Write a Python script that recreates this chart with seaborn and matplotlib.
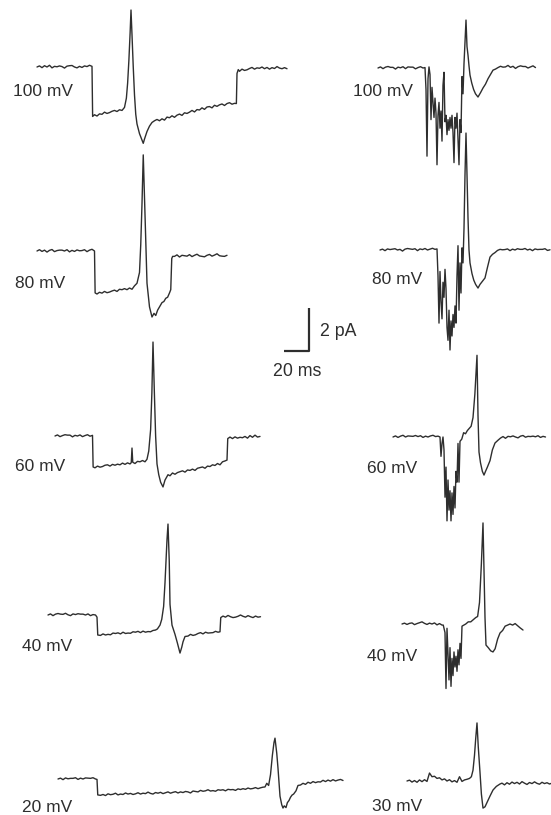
import numpy as np
import pandas as pd
import matplotlib
matplotlib.use('Agg')
import matplotlib.pyplot as plt
import seaborn as sns

# =============================================================================
# Single-channel current traces at different step voltages (two patches)
# time in ms from trace start, current in pA relative to the holding baseline
# =============================================================================

# --- left column, 100 mV ---
L100_T = [0, 2, 4, 6, 8, 10, 12, 14, 16, 18, 20, 22, 24, 26, 28, 30, 32, 34, 36, 38, 40, 42, 44,
          44.5, 46, 48, 50, 52, 54, 56, 58, 60, 62, 64, 66, 68, 70,
          71.5, 72.5, 73.5, 74.5, 75.2, 76, 77, 78, 79, 80, 82, 84, 85, 86, 88, 90, 92, 94,
          96, 98, 100, 102, 104, 106, 108, 110, 112, 114, 116, 118, 120, 122, 124, 126, 128, 130,
          132, 134, 136, 138, 140, 142, 144, 146, 148, 150, 152, 154, 156, 158, 159.5,
          160, 161, 162, 164, 166, 168, 170, 172, 174, 176, 178, 180, 182, 184, 186, 188, 190,
          192, 194, 196, 198, 200]
L100_I = [0, 0.05, -0.03, 0.06, 0, 0.08, -0.04, 0.03, 0.01, 0.05, 0.02, -0.05, 0.04, 0.06, 0.07, 0, -0.04, 0.03, -0.02, 0.05, 0.02, 0.08, 0.03,
          -2.3, -2.22, -2.28, -2.18, -2.2, -2.1, -2.16, -2.12, -2.06, -2.02, -2.07, -1.99, -2.02, -1.88,
          -1.45, -0.75, 0.3, 1.6, 2.65, 1.5, 0.0, -1.3, -2.2, -2.65, -3.1, -3.4, -3.55, -3.35, -3.0, -2.75, -2.58, -2.5,
          -2.44, -2.5, -2.41, -2.47, -2.33, -2.36, -2.27, -2.34, -2.24, -2.19, -2.25, -2.13, -2.16, -2.1, -2.02, -2.09, -1.98, -2.0,
          -1.9, -1.97, -1.86, -1.84, -1.9, -1.78, -1.83, -1.76, -1.72, -1.79, -1.7, -1.66, -1.73, -1.69, -1.7,
          -0.3, -0.12, -0.2, -0.1, -0.16, -0.13, -0.07, -0.02, -0.1, -0.04, -0.06, 0.0, -0.08, -0.02, -0.1, -0.03, -0.07,
          0.02, -0.05, -0.08, -0.03, -0.08]

# --- left column, 80 mV ---
L80_T = [0, 2, 4, 6, 8, 10, 12, 14, 16, 18, 20, 22, 24, 26, 28, 30, 32, 34, 36, 38, 40, 42, 44, 46,
         46.5, 48, 50, 52, 54, 56, 58, 60, 62, 64, 66, 68, 70, 72,
         74, 76, 78, 80,
         82, 83, 84, 85, 86.5, 88, 90, 92, 93.6, 95, 96.5, 98, 100, 101.5, 103, 104.5, 106, 107,
         107.8, 108.5, 110, 112, 114, 116, 118, 120, 122, 124, 126, 128, 130, 132, 134, 136, 138,
         140, 142, 144, 146, 148, 150, 152]
L80_I = [0, 0.06, -0.02, 0.04, -0.05, 0.03, 0.07, -0.03, 0.02, 0.04, 0.04, 0.0, 0.06, -0.04, 0.03, -0.02, 0.05, 0.01, 0.02, 0.06, -0.03, 0.04, 0.08, 0.0,
         -1.95, -2.0, -1.92, -1.96, -1.88, -1.94, -1.91, -1.86, -1.82, -1.88, -1.78, -1.8, -1.75, -1.8,
         -1.72, -1.78, -1.62, -1.5,
         -1.0, 0.3, 2.2, 4.47, 1.5, -1.5, -2.6, -3.07, -2.9, -3.0, -2.75, -2.6, -2.4, -2.35, -2.2, -2.15, -1.95, -1.8,
         -0.35, -0.25, -0.25, -0.18, -0.28, -0.2, -0.22, -0.24, -0.17, -0.26, -0.2, -0.15, -0.23, -0.25, -0.27, -0.2, -0.16,
         -0.24, -0.19, -0.13, -0.22, -0.24, -0.25, -0.2]

# --- left column, 60 mV ---
L60_T = [0, 2, 4, 6, 8, 10, 12, 14, 16, 18, 20, 22, 24, 26, 28, 30,
         30.5, 32, 34, 36, 38, 40, 42, 44, 46, 48, 50, 52, 54, 56, 58, 60,
         61, 61.6, 62.2, 64, 66, 68, 70, 72, 73.6,
         75, 76.5, 77.5, 78.4, 79.5, 80.5, 81.6, 83, 84.5, 86.4, 88, 90.4,
         92, 94, 96, 98, 100, 102, 104, 106, 108, 110, 112, 114, 116, 118, 120, 122, 124, 126, 128, 130, 132, 134, 136,
         137.6, 138.2, 140, 142, 144, 146, 148, 150, 152, 154, 156, 158, 160, 162, 164]
L60_I = [0, 0.05, -0.03, 0.02, 0.06, 0.04, 0.04, -0.04, 0.03, 0.0, 0.05, -0.03, 0.02, 0.06, -0.01, 0.03,
         -1.44, -1.48, -1.4, -1.45, -1.42, -1.36, -1.34, -1.4, -1.32, -1.36, -1.31, -1.34, -1.26, -1.32, -1.25, -1.3,
         -1.24, -0.56, -1.22, -1.28, -1.18, -1.2, -1.14, -1.2, -1.08,
         -0.7, 0.3, 2.0, 4.37, 2.0, 0.0, -1.3, -1.8, -2.15, -2.37, -2.05, -1.8,
         -1.85, -1.72, -1.78, -1.7, -1.66, -1.62, -1.68, -1.58, -1.6, -1.54, -1.6, -1.5, -1.47, -1.44, -1.5, -1.4, -1.42, -1.34, -1.37, -1.28, -1.34, -1.2, -1.16,
         -1.12, -0.12, -0.05, -0.12, -0.04, -0.1, -0.06, -0.08, -0.02, -0.1, 0.02, -0.06, 0.04, -0.05, -0.02]

# --- left column, 40 mV ---
L40_T = [0, 2, 4, 6, 8, 10, 12, 14, 16, 18, 20, 22, 24, 26, 28, 30, 32, 34, 36, 38,
         39.2, 39.8, 42, 44, 46, 48, 50, 52, 54, 56, 58, 60, 62, 64, 66, 68, 70, 72, 74, 76, 78, 80, 82, 84, 86,
         87.5, 89.6, 91, 92.5, 93.6, 95.2, 96, 97, 97.6, 99.2, 101.6, 103.5, 105.6, 107, 108, 109.6,
         112, 114, 116, 118, 120, 122, 124, 126, 128, 130, 132, 134, 136,
         137.6, 138.2,
         140, 142, 144, 146, 148, 150, 152, 154, 156, 158, 160, 162, 164, 166, 168, 170]
L40_I = [0, 0.05, -0.03, 0.04, 0.07, 0.04, 0.03, 0.08, 0.01, -0.03, 0.05, 0.02, 0.06, 0.04, 0.04, 0.0, 0.05, -0.03, 0.02, 0.0,
         -0.1, -0.93, -0.95, -0.88, -0.93, -0.9, -0.92, -0.84, -0.86, -0.83, -0.88, -0.8, -0.86, -0.84, -0.85, -0.78, -0.8, -0.76, -0.82, -0.75, -0.8, -0.77, -0.78, -0.72, -0.7,
         -0.65, -0.47, -0.2, 0.4, 1.5, 3.5, 4.23, 2.5, 0.5, -0.47, -0.9, -1.3, -1.77, -1.5, -1.25, -1.0,
         -0.98, -0.9, -0.95, -0.92, -0.86, -0.82, -0.88, -0.8, -0.84, -0.83, -0.82, -0.76, -0.8,
         -0.78, -0.12,
         -0.05, -0.1, -0.02, -0.08, -0.12, -0.1, -0.06, 0.0, -0.06, -0.1, -0.03, -0.08, -0.12, -0.05, -0.1, -0.08]

# --- left column, 20 mV ---
L20_T = [0, 2, 4, 6, 8, 10, 12, 14, 16, 18, 20, 22, 24, 26, 28, 30,
         31.2, 31.8,
         34, 36, 38, 40, 42, 44, 46, 48, 50, 52, 54,
         56, 58, 60, 62, 64, 66, 68, 70, 72, 74, 76,
         78, 80, 82, 84, 86, 88, 90, 92, 94, 96, 98,
         100, 102, 104, 106, 108, 110, 112, 114, 116, 118, 120,
         122, 124, 126, 128, 130, 132, 134, 136, 138, 140, 142,
         144, 146, 148, 150, 152, 154, 156, 158, 160, 162, 164,
         165.6, 167, 168.5, 170, 171.5, 172.8, 173.6, 175, 176, 177.6, 179, 180, 181, 182.4, 183.5, 184.8, 186, 187.2, 188.5, 190.4, 192,
         194, 196, 198, 200, 202, 204, 206, 208, 210, 212, 214, 216, 218, 220, 222, 224, 226, 228]
L20_I = [0, 0.04, -0.03, 0.05, 0.01, 0.03, 0.03, 0.06, -0.02, 0.04, 0.0, 0.05, 0.04, 0.03, 0.06, 0.0,
         -0.02, -0.74,
         -0.76, -0.72, -0.77, -0.69, -0.73, -0.71, -0.66, -0.74, -0.7, -0.72, -0.65,
         -0.7, -0.67, -0.72, -0.69, -0.64, -0.7, -0.66, -0.68, -0.61, -0.67, -0.7,
         -0.63, -0.66, -0.62, -0.68, -0.64, -0.6, -0.66, -0.62, -0.59, -0.65, -0.6,
         -0.63, -0.58, -0.6, -0.65, -0.56, -0.58, -0.6, -0.53, -0.57, -0.55, -0.5,
         -0.56, -0.54, -0.57, -0.5, -0.52, -0.5, -0.55, -0.48, -0.5, -0.49, -0.53,
         -0.46, -0.49, -0.45, -0.48, -0.42, -0.46, -0.44, -0.4, -0.45, -0.41, -0.38,
         -0.37, -0.2, -0.3, 0.2, 1.1, 1.7, 1.9, 1.2, 0.5, -0.8, -1.2, -1.35, -1.25, -1.33, -1.1, -1.0, -0.85, -0.75, -0.7, -0.55, -0.3,
         -0.28, -0.2, -0.25, -0.15, -0.2, -0.12, -0.17, -0.13, -0.14, -0.06, -0.12, -0.05, -0.1, -0.03, -0.09, -0.05, -0.02, -0.07]

# --- right column, 100 mV ---
R100_T = [0, 2, 4, 6, 8, 10, 12, 14, 16, 18, 20, 22, 24, 26, 28, 30, 32, 34, 36, 37.6,
          38.4, 39.2, 40.0, 40.8, 41.6, 42.4, 43.2, 44.0, 44.8, 45.6,
          46.4, 47.2, 48.0, 48.8, 49.6, 50.4, 51.2, 52.0, 52.8, 53.6,
          54.4, 55.2, 56.0, 56.8, 57.6, 58.4, 59.2, 60.0, 60.8, 61.6,
          62.4, 63.2, 64.0, 64.8, 65.6, 66.4, 67.2, 68.0, 68.8, 69.6,
          70.4, 71.2, 72.0, 72.8, 73.6,
          75, 76.5, 78, 80, 82, 84, 86, 88, 90, 92,
          94, 96, 98, 100, 102, 104, 106, 108, 110, 112, 114, 116, 118, 120, 122, 124, 126]
R100_I = [0, 0.05, -0.03, 0.04, 0.07, 0.03, 0.03, -0.05, 0.04, 0.01, 0.06, -0.03, 0.05, 0.04, 0.04, -0.04, 0.02, 0.06, 0.0, 0.02,
          -1.0, -4.1, -0.5, 0.05, -0.3, -2.4, -0.9, -1.6, -2.3, -1.4,
          -2.1, -4.5, -2.2, -1.6, -2.8, -2.0, -3.4, -0.8, -0.2, -2.5,
          -2.2, -3.1, -2.4, -2.9, -2.3, -2.8, -2.2, -3.0, -4.4, -2.3,
          -2.8, -2.1, -3.3, -4.5, -2.4, -3.0, -0.4, -1.2, 0.2, 1.2,
          2.23, 1.0, 0.6, 0.1, -0.33,
          -0.7, -1.0, -1.2, -1.35, -1.15, -0.93, -0.75, -0.5, -0.3, -0.1,
          -0.05, 0.02, 0.08, 0.04, 0.05, 0.12, 0.03, 0.08, -0.02, 0.06, 0.1, 0.07, 0.07, 0.0, 0.05, 0.1, 0.02]

# --- right column, 80 mV ---
R80_T = [0, 2, 4, 6, 8, 10, 12, 14, 16, 18, 20, 22, 24, 26, 28, 30, 32, 34, 36, 38, 40, 42, 44, 45.6,
         46.4, 47.2, 48.0, 48.8, 49.6, 50.4, 51.2, 52.0, 52.8, 53.6,
         54.4, 55.2, 56.0, 56.8, 57.6, 58.4, 59.2, 60.0, 60.8, 61.6,
         62.4, 63.2, 64.0, 64.8, 65.6, 66.4, 67.2, 68.0,
         68.8, 69.6, 70.4, 71.2, 72.0, 73.6, 75, 76.5, 78.4, 80, 82, 84, 86, 88, 90,
         92, 94, 96, 98, 100, 102, 104, 106, 108, 110, 112, 114, 116, 118, 120, 122, 124, 126, 128, 130, 132, 134, 136]
R80_I = [0, 0.04, -0.03, 0.05, 0.02, 0.04, 0.06, 0.0, 0.03, -0.05, 0.04, 0.07, 0.05, 0.03, 0.06, -0.03, 0.05, 0.02, 0.07, 0.0, 0.04, 0.08, 0.03, 0.05,
         -1.2, -3.4, -1.0, -2.4, -3.2, -1.5, -2.2, -0.9, -1.8, -3.6,
         -4.2, -2.8, -4.65, -3.3, -4.0, -3.0, -3.6, -2.6, -3.4, -1.2,
         0.2, -2.8, -0.6, -2.0, 0.1, -0.6, 1.0, 3.5,
         5.44, 3.5, 1.5, 0.0, -0.6, -1.1, -1.4, -1.6, -1.77, -1.6, -1.45, -1.3, -0.8, -0.33, -0.2,
         -0.12, -0.02, 0.03, 0.01, 0.02, 0.05, -0.03, 0.04, 0.0, 0.06, 0.03, 0.03, 0.07, 0.0, 0.04, -0.03, 0.05, 0.02, 0.03, 0.03, 0.06, -0.02, 0.01]

# --- right column, 60 mV ---
R60_T = [0, 2, 4, 6, 8, 10, 12, 14, 16, 18, 20, 22, 24, 26, 28, 30, 32, 34, 36, 37.6,
         38.4, 39.2, 40.0, 40.8, 41.6, 42.4, 43.2, 44.0, 44.8, 45.6,
         46.4, 47.2, 48.0, 48.8, 49.6, 50.4, 51.2, 52.0, 52.8, 53.6,
         55, 56.5, 58, 59.5, 61, 62.5, 64, 65.5, 67.2, 68, 68.8, 70, 71.5, 72.8, 74, 75.5, 77.6, 79.5, 81.6,
         84, 86, 88, 90, 92, 94, 96, 98, 100, 102, 104, 106, 108, 110, 112, 114, 116, 118, 120, 122]
R60_I = [0, 0.05, -0.02, 0.04, 0.08, 0.0, 0.05, 0.04, 0.03, 0.07, 0.02, 0.06, -0.02, 0.04, 0.0, 0.05, 0.08, 0.02, 0.04, 0.0,
         -0.9, -0.3, 0.0, -0.6, -2.8, -1.4, -3.9, -2.0, -3.4, -2.5,
         -3.9, -2.6, -3.6, -2.3, -3.3, -1.6, -2.1, -0.3, -2.1, -0.2,
         -0.1, 0.2, 0.15, 0.3, 0.4, 0.5, 0.9, 2.0, 3.8, 1.0, -0.7, -1.2, -1.6, -1.77, -1.6, -1.4, -1.1, -0.6, -0.28,
         -0.15, -0.05, 0.02, -0.06, 0.03, 0.01, 0.05, 0.0, -0.04, 0.04, 0.07, -0.01, 0.03, 0.02, 0.04, 0.01, 0.06, -0.02, 0.03, 0.0]

# --- right column, 40 mV ---
R40_T = [0, 2, 4, 6, 8, 10, 12, 14, 16, 18, 20, 22, 24, 26, 28, 30, 32, 33,
         34.4, 35.2, 36.0, 36.8, 37.6, 38.4, 39.2, 40.0, 40.8, 41.6,
         42.4, 43.2, 44.0, 44.8, 45.6, 46.4, 47.2, 48.0,
         49.5, 51, 53, 55, 57, 59, 60.5, 62, 63.5, 64.8, 65.6, 66.4, 67.2, 69, 71, 72.8,
         74.5, 76.5, 78.4, 80.5, 82.5, 84.5, 86.4, 88.5, 90.5, 92.5, 94.5, 96.8]
R40_I = [0, 0.04, -0.02, 0.03, 0.05, -0.03, 0.02, 0.06, 0.1, 0.03, -0.02, 0.04, 0.0, 0.05, -0.04, 0.02, -0.05, -0.05,
         -0.4, -3.0, -0.2, -1.4, -2.6, -1.1, -2.9, -1.6, -2.4, -1.3,
         -2.0, -1.5, -2.2, -1.2, -1.9, -0.9, -1.6, -0.1,
         -0.05, 0.0, 0.1, 0.1, 0.2, 0.3, 0.35, 1.0, 2.8, 4.7, 2.5, 0.3, -0.98, -1.1, -1.25, -1.3,
         -1.15, -0.7, -0.42, -0.3, -0.1, -0.05, 0.0, -0.05, 0.02, -0.08, -0.18, -0.28]

# --- right column, 30 mV ---
R30_T = [0, 2, 4, 6, 8, 10, 12, 14, 16, 18, 20, 22, 24, 26, 28, 30, 32, 34, 36, 38, 40, 42, 44, 46, 48, 50,
         51.5, 52.8, 54, 55, 56, 57, 58.4, 59.5, 60.8, 62.4, 64, 66.4, 68.8, 71.5, 74.4,
         76, 78, 80, 82, 84, 86, 88, 90, 92, 94, 96, 98, 100, 102, 104, 106, 108, 110, 112, 114, 116]
R30_I = [0, 0.04, -0.05, 0.02, -0.06, 0.05, -0.03, 0.06, -0.02, 0.37, 0.2, 0.22, 0.12, 0.15, 0.05, 0.1, 0.0, 0.06, -0.04, 0.02, -0.06, 0.2, -0.02, 0.05, 0.08, 0.12,
         0.2, 0.5, 1.2, 2.0, 2.7, 1.6, 0.4, -0.6, -1.26, -1.2, -1.0, -0.7, -0.42, -0.25, -0.14,
         -0.1, -0.18, -0.08, -0.15, -0.05, -0.12, -0.06, -0.14, -0.03, -0.1, -0.16, -0.07, -0.12, -0.04, -0.11, -0.15, -0.06, -0.12, -0.08, -0.14, -0.1]

LABELS = ['100 mV', '80 mV', '60 mV', '40 mV', '20 mV',
          '100 mV', '80 mV', '60 mV', '40 mV', '30 mV']

TRACES = [
    (L100_T, L100_I), (L80_T, L80_I), (L60_T, L60_I), (L40_T, L40_I), (L20_T, L20_I),
    (R100_T, R100_I), (R80_T, R80_I), (R60_T, R60_I), (R40_T, R40_I), (R30_T, R30_I),
]

# =============================================================================
# LAYOUT (pixels on the 551 x 815 page)
# =============================================================================
W, H = 551, 815
PX_PER_MS = 1.25     # 20 ms = 25 px
PX_PER_PA = 21.5     # 2 pA = 43 px

# trace start (x, baseline y)
ORIGINS = [(37, 67), (37, 251), (55, 436), (48, 615), (58, 779),
           (378, 68), (380, 250), (393, 437), (402, 624), (407, 781)]
# label left x, text baseline y
LABEL_POS = [(13, 96), (15, 288), (15, 471), (22, 651), (22, 812),
             (353, 96), (372, 284), (367, 473), (367, 661), (372, 811)]

INK = '#2e2e2e'

sns.set_theme(style='white')
plt.rcParams['font.family'] = ['Liberation Sans', 'DejaVu Sans']


def px(x, y):
    return x / PX_PER_MS, -y / PX_PER_PA


frames = []
for k, ((t, cur), (x0, y0)) in enumerate(zip(TRACES, ORIGINS)):
    assert len(t) == len(cur), (k, len(t), len(cur))
    ox, oy = px(x0, y0)
    frames.append(pd.DataFrame({'trace': k,
                                'time': np.asarray(t, float) + ox,
                                'current': np.asarray(cur, float) + oy}))
df = pd.concat(frames, ignore_index=True)

fig = plt.figure(figsize=(W / 100, H / 100), dpi=100)
ax = fig.add_axes([0, 0, 1, 1])

sns.lineplot(data=df, x='time', y='current', units='trace', estimator=None,
             sort=False, color=INK, lw=1.0, ax=ax)

for text, (lx, ly) in zip(LABELS, LABEL_POS):
    ax.text(*px(lx, ly), text, fontsize=12.5, color=INK, ha='left', va='baseline')

# scale bar: 20 ms x 2 pA
cx, cy = px(309, 351)
ax.plot([cx - 20, cx, cx], [cy, cy, cy + 2], color=INK, lw=1.6, solid_capstyle='butt')
ax.text(*px(320, 336), '2 pA', fontsize=12.8, color=INK, ha='left', va='baseline')
ax.text(*px(273, 376), '20 ms', fontsize=12.8, color=INK, ha='left', va='baseline')

ax.set_xlim(0, W / PX_PER_MS)
ax.set_ylim(-H / PX_PER_PA, 0)
ax.set_axis_off()

fig.savefig('out.png', dpi=100, facecolor='white')
